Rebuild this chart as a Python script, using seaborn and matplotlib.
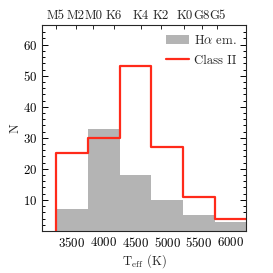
import numpy as np
import pandas as pd
import matplotlib
matplotlib.use("Agg")
import matplotlib.pyplot as plt
import seaborn as sns
from matplotlib.patches import Patch
from matplotlib.lines import Line2D

# bins in Teff (K)
bin_edges = [3250, 3750, 4250, 4750, 5250, 5750, 6250]
bin_centers = [3500, 4000, 4500, 5000, 5500, 6000]
halpha_counts = [7, 33, 18, 10, 5, 3]
class2_counts = [25, 30, 53, 27, 11, 4]

# spectral types on the top axis
spt_labels = ["M5", "M2", "M0", "K6", "K4", "K2", "K0", "G8", "G5"]
spt_teff = [3250, 3565, 3835, 4155, 4590, 4900, 5270, 5540, 5790]

sns.set_style("ticks")
plt.rcParams["font.family"] = ["cmr10", "DejaVu Serif"]
plt.rcParams["mathtext.fontset"] = "cm"
plt.rcParams["axes.formatter.use_mathtext"] = True

fs = 9.2
fig = plt.figure(figsize=(2.73, 2.73), dpi=100)
ax = fig.add_axes([0.154, 0.154, 0.747, 0.754])

df = pd.DataFrame({"teff": bin_centers, "ha": halpha_counts, "c2": class2_counts})

sns.histplot(data=df, x="teff", weights="ha", bins=bin_edges, element="bars",
             color="#b4b4b4", alpha=1, linewidth=0, ax=ax)
sns.histplot(data=df, x="teff", weights="c2", bins=bin_edges, element="step",
             fill=False, color="#ff2a1a", linewidth=1.6, ax=ax)
# closing edge of the Class II step at the first bin
ax.vlines(bin_edges[0], 0, class2_counts[0], color="#ff2a1a", linewidth=1.6)

ax.set_xlim(3030, 6240)
ax.set_ylim(0, 66.3)
ax.set_xticks([3500, 4000, 4500, 5000, 5500, 6000])
ax.set_xticks(np.arange(3250, 6250, 250), minor=True)
ax.set_yticks([10, 20, 30, 40, 50, 60])
ax.set_yticks(np.arange(2, 66, 2), minor=True)
ax.tick_params(direction="in", which="both", top=False, right=True, labelsize=fs,
               colors="black", width=0.7)
ax.tick_params(which="major", length=4)
ax.tick_params(which="minor", length=2)
ax.set_xlabel(r"T$_{\rm eff}$ (K)", fontsize=fs, labelpad=2)
ax.set_ylabel("N", fontsize=fs)
ax.yaxis.set_label_coords(-0.1, 0.5)
for s in ax.spines.values():
    s.set_linewidth(0.7)

top = ax.twiny()
top.set_xlim(ax.get_xlim())
top.set_xticks(spt_teff)
top.set_xticklabels(spt_labels)
top.tick_params(direction="in", length=3, width=0.7, labelsize=fs, pad=2)
top.set_xticks([], minor=True)

handles = [Patch(facecolor="#b4b4b4", edgecolor="none"),
           Line2D([], [], color="#ff2a1a", linewidth=1.6)]
ax.legend(handles, [r"H$\alpha$ em.", "Class II"], loc="upper right", frameon=False,
          fontsize=fs, handlelength=1.8, handletextpad=0.4, borderaxespad=0.3,
          labelspacing=0.6)

fig.savefig("out.png", dpi=100)
